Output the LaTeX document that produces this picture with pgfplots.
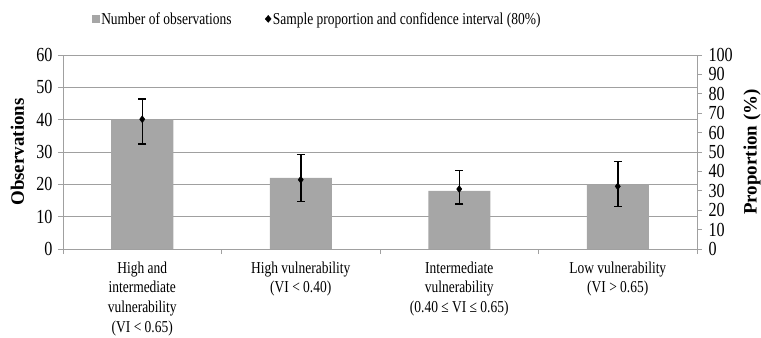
\documentclass[border=0pt]{standalone}
\usepackage{fontspec}
\setmainfont{Liberation Serif}
\newfontfamily\narrowfont[FakeStretch=0.81]{Liberation Serif}
\usepackage{pgfplots}
\pgfplotsset{compat=1.18}
\definecolor{barg}{HTML}{A6A6A6}
\definecolor{gridg}{HTML}{A0A0A0}
\begin{document}
\begin{tikzpicture}
\pgfplotsset{
  common/.style={
    scale only axis, width=634bp, height=194bp,
    at={(0,0)}, anchor=south west,
    xmin=0.5, xmax=4.5,
    /pgf/number format/assume math mode=true,
    tick align=outside,
    major tick length=5bp,
    tick style={gridg, line width=0.8bp},
    axis line style={gridg, line width=0.8bp},
  }
}
\begin{axis}[common,
  ymin=0, ymax=60, ytick={0,10,...,60},
  yticklabel style={font=\narrowfont\fontsize{20}{22}\selectfont, xshift=-2bp},
  xtick={0.5,1.5,2.5,3.5,4.5},
  x tick label as interval,
  xticklabels={{High and\\intermediate\\vulnerability\\(VI < 0.65)},
               {High vulnerability\\(VI < 0.40)},
               {Intermediate\\vulnerability\\(0.40 ≤ VI ≤ 0.65)},
               {Low vulnerability\\(VI > 0.65)}},
  xticklabel style={align=center, font=\narrowfont\fontsize{16.7}{20}\selectfont, anchor=north, yshift=-4bp},
  xtick pos=left, ytick pos=left,
  ymajorgrids, grid style={gridg, line width=0.8bp},
  ylabel={\fontsize{19}{22}\selectfont\bfseries Observations},
  every axis y label/.style={at={(axis description cs:-0.0718,0.5)}, rotate=90, anchor=center},
]
\addplot[ybar, bar width=62bp, fill=barg, draw=none] coordinates {(1,40) (2,22) (3,18) (4,20)};
\end{axis}
\begin{axis}[common,
  ymin=0, ymax=100, ytick={0,10,...,100},
  yticklabel style={font=\narrowfont\fontsize{20}{22}\selectfont, xshift=3bp},
  axis x line=none, axis y line*=right,
  ylabel={\fontsize{19}{22}\selectfont\bfseries Proportion (\%)},
  every axis y label/.style={at={(axis description cs:1.0868,0.5)}, rotate=90, anchor=center},
  legend columns=2,
  legend style={draw=none, fill=none, inner sep=0pt, at={(0.046,1.186)}, anchor=west,
    font=\narrowfont\fontsize{16.7}{19}\selectfont,
    /tikz/every even column/.append style={column sep=32bp},
    nodes={inner sep=1.5bp}},
]
\addlegendimage{legend image code/.code={\fill[barg] (0bp,-3.5bp) rectangle (7bp,3.5bp);}}
\addlegendentry{Number of observations}
\addlegendimage{legend image code/.code={\fill[black] (1bp,0bp) -- (4bp,3.5bp) -- (7bp,0bp) -- (4bp,-3.5bp) -- cycle;}}
\addlegendentry{Sample proportion and confidence interval (80\%)}
\addplot[forget plot, only marks, mark=diamond*, mark size=3.5bp, black,
  error bars/.cd, y dir=both, y explicit,
  error bar style={line width=1.5bp, black},
  error mark options={rotate=90, mark size=4bp, line width=1.5bp, black}]
  coordinates {
  (1,66.9) += (0,10.5) -= (0,12.7)
  (2,35.7) += (0,12.9) -= (0,11.2)
  (3,30.9) += (0,9.5) -= (0,7.7)
  (4,32.3) += (0,12.7) -= (0,10.3)
  };
\end{axis}
\pgfresetboundingbox
\useasboundingbox (-63bp,-89bp) rectangle (698bp,249bp);
\end{tikzpicture}
\end{document}
